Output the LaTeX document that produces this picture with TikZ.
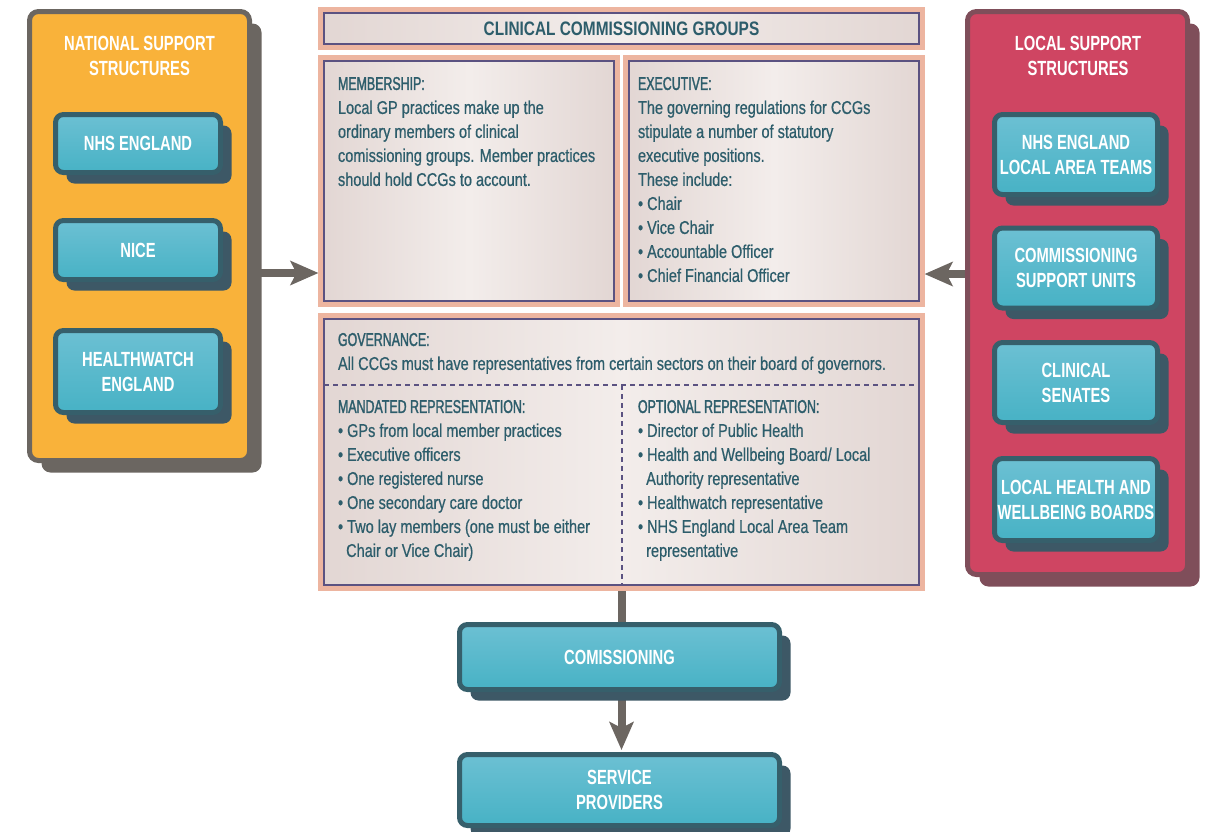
\documentclass[tikz,border=0pt]{standalone}
\usepackage{fontspec}
\setmainfont{Liberation Sans}
\newfontfamily\bodyf[FakeStretch=0.785,FakeBold=0.6]{Liberation Sans}
\newfontfamily\headf[FakeStretch=0.67,FakeBold=1.6]{Liberation Sans}
\newfontfamily\boldf[FakeStretch=0.72]{Liberation Sans Bold}
\newfontfamily\titlef[FakeStretch=0.79]{Liberation Sans Bold}
\usetikzlibrary{shadows,arrows.meta}
\pgfdeclarelayer{bg}
\pgfsetlayers{bg,main}
\definecolor{orangefill}{HTML}{F9B23A}
\definecolor{lgray}{HTML}{6B6661}
\definecolor{redfill}{HTML}{CF4562}
\definecolor{rdark}{HTML}{7F4E5A}
\definecolor{btop}{HTML}{6CC0D3}
\definecolor{bbot}{HTML}{47B2C5}
\definecolor{bborder}{HTML}{365F6B}
\definecolor{bshadow}{HTML}{3D5866}
\definecolor{salmon}{HTML}{EDB5A0}
\definecolor{purp}{HTML}{5B5281}
\definecolor{cedge}{HTML}{E2D6D3}
\definecolor{cmid}{HTML}{F3EDEB}
\definecolor{tealtext}{HTML}{2D5D6B}
\definecolor{agray}{HTML}{6C6661}
\newcommand\hd[1]{{\headf #1}}
\begin{document}
\begin{tikzpicture}[x=1pt,y=-1pt,
  every node/.style={outer sep=0pt},
  panelL/.style={draw=lgray, fill=orangefill, line width=5pt, rounded corners=9pt,
    minimum width=220pt, minimum height=449pt, inner sep=0pt,
    drop shadow={shadow xshift=12pt, shadow yshift=-12pt, fill=lgray, opacity=1}},
  panelR/.style={draw=rdark, fill=redfill, line width=5pt, rounded corners=9pt,
    minimum width=220pt, minimum height=563pt, inner sep=0pt,
    drop shadow={shadow xshift=12pt, shadow yshift=-12pt, fill=rdark, opacity=1}},
  bluebox/.style={draw=bborder, line width=5pt, rounded corners=8pt,
    top color=btop, bottom color=bbot, inner sep=0pt,
    drop shadow={shadow xshift=11pt, shadow yshift=-11pt, fill=bshadow, opacity=1},
    text=white, font=\boldf\fontsize{20.5}{25}\selectfont, align=center},
  phead/.style={anchor=north, inner sep=0pt, align=center, text=white,
    font=\boldf\fontsize{20.5}{25}\selectfont},
  ccg/.style={draw=salmon, line width=5pt, left color=cedge, right color=cedge,
    middle color=cmid, inner sep=0pt},
  purpline/.style={draw=purp, line width=2pt},
  dashline/.style={draw=purp, line width=1.6pt, dash pattern=on 5pt off 4pt},
  bodytext/.style={anchor=north west, inner sep=0pt, align=left, text=tealtext,
    font=\bodyf\fontsize{18.5}{24}\selectfont},
  arrowline/.style={draw=agray, line width=8pt},
  arr/.style={arrowline, -{Stealth[length=28pt,width=24pt,inset=6pt]}}
]
\useasboundingbox (0,0) rectangle (1214,831);

% side panels
\node[panelL] (lp) at (139.5,236) {};
\node[panelR] (rp) at (1077.5,293) {};
\node[phead] (lhead) at (139.5,36) {NATIONAL SUPPORT\\STRUCTURES};
\node[phead] (rhead) at (1078,36) {LOCAL SUPPORT\\STRUCTURES};

% left boxes
\node[bluebox, minimum width=165pt, minimum height=58pt] (nhs) at (138,143.5) {NHS ENGLAND};
\node[bluebox, minimum width=165pt, minimum height=59pt] (nice) at (138,250) {NICE};
\node[bluebox, minimum width=165pt, minimum height=82pt] (hw) at (138,371.5) {HEALTHWATCH\\ENGLAND};

% right boxes
\node[bluebox, minimum width=163pt, minimum height=80pt] (lat) at (1076,154.5) {NHS ENGLAND\\LOCAL AREA TEAMS};
\node[bluebox, minimum width=163pt, minimum height=80pt] (csu) at (1076,268) {COMMISSIONING\\SUPPORT UNITS};
\node[bluebox, minimum width=163pt, minimum height=80pt] (cs) at (1076,382.5) {CLINICAL\\SENATES};
\node[bluebox, minimum width=163pt, minimum height=82pt] (hwb) at (1076,499.5) {LOCAL HEALTH AND\\WELLBEING BOARDS};

% CCG frames
\node[ccg, minimum width=602pt, minimum height=38pt] (title) at (621.5,28.5) {};
\node[ccg, minimum width=297pt, minimum height=247pt] (mem) at (469,181) {};
\node[ccg, minimum width=297pt, minimum height=247pt] (exe) at (774,181) {};
\node[ccg, minimum width=602pt, minimum height=273pt] (gov) at (621.5,452) {};
\foreach \b in {title,mem,exe,gov}
  \draw[purpline] ([shift={(3.5,3.5)}]\b.north west) rectangle ([shift={(-3.5,-3.5)}]\b.south east);
\coordinate (dl) at (324,385);
\coordinate (dr) at (919,385);
\coordinate (dt) at (622,385);
\coordinate (db) at (622,585);
\draw[dashline] (dl) -- (dr);
\draw[dashline] (dt) -- (db);

\node[text=tealtext, inner sep=0pt, font=\titlef\fontsize{19.5}{24}\selectfont] (ttl) at (title) {CLINICAL COMMISSIONING GROUPS};

\node[bodytext] (memtxt) at (338,77) {\hd{MEMBERSHIP:}\\Local GP practices make up the\\ordinary members of clinical\\comissioning groups. Member practices\\should hold CCGs to account.};
\node[bodytext] (exetxt) at (638,77) {\hd{EXECUTIVE:}\\The governing regulations for CCGs\\stipulate a number of statutory\\executive positions.\\These include:\\• Chair\\• Vice Chair\\• Accountable Officer\\• Chief Financial Officer};
\node[bodytext] (govtxt) at (338,333) {\hd{GOVERNANCE:}\\All CCGs must have representatives from certain sectors on their board of governors.};
\node[bodytext] (mantxt) at (338,400) {\hd{MANDATED REPRESENTATION:}\\• GPs from local member practices\\• Executive officers\\• One registered nurse\\• One secondary care doctor\\• Two lay members (one must be either\\\hphantom{•}\,Chair or Vice Chair)};
\node[bodytext] (opttxt) at (638,400) {\hd{OPTIONAL REPRESENTATION:}\\• Director of Public Health\\• Health and Wellbeing Board/ Local\\\hphantom{•}\,Authority representative\\• Healthwatch representative\\• NHS England Local Area Team\\\hphantom{•}\,representative};

% bottom boxes
\node[bluebox, minimum width=320pt, minimum height=65pt] (com) at (619.5,657) {COMISSIONING};
\node[bluebox, minimum width=320pt, minimum height=71pt] (sp) at (619.5,790) {SERVICE\\PROVIDERS};

% connectors
\begin{pgfonlayer}{bg}
\draw[arr, shorten >=2pt] ([yshift=-37pt]lp.east) -- ([yshift=-37pt]lp.east -| mem.west);
\draw[arr, shorten >=2pt] ([yshift=19pt]rp.west) -- ([yshift=19pt]rp.west -| exe.east);
\draw[arrowline] (gov.south) -- (gov.south |- com.north);
\draw[arr, shorten >=4.5pt] (gov.south |- com.south) -- (gov.south |- sp.north);
\end{pgfonlayer}
\end{tikzpicture}
\end{document}
